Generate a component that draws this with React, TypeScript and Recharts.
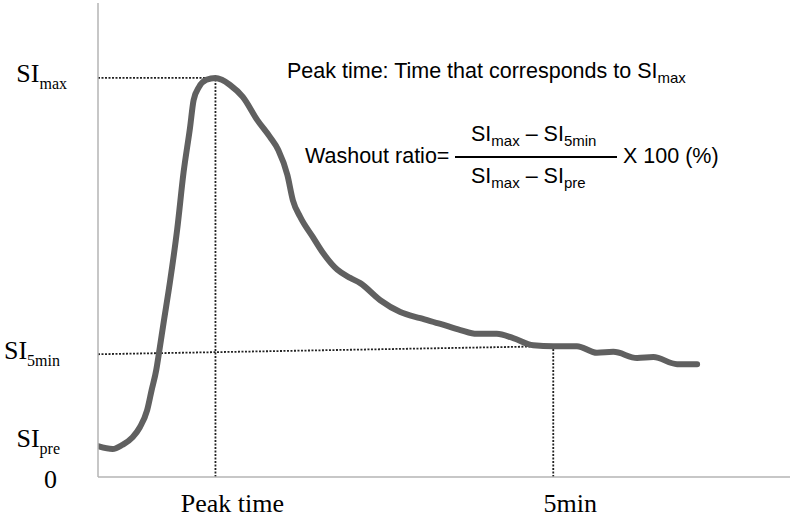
import React from "react";
import { LineChart, Line, XAxis, YAxis, ReferenceLine } from "recharts";

// time in minutes
const times = [
  0, 0.16, 0.27, 0.38, 0.46, 0.54, 0.59, 0.64, 0.67, 0.72, 0.79, 0.87, 0.94, 1.01, 1.05, 1.11, 1.19, 1.29,
  1.36, 1.45, 1.59, 1.75, 1.89, 1.98, 2.08, 2.14, 2.22, 2.36, 2.47, 2.63, 2.77, 2.88, 3.1, 3.32, 3.54, 3.76,
  3.98, 4.16, 4.38, 4.56, 4.78, 5.0, 5.26, 5.48, 5.66, 5.92, 6.1, 6.36, 6.58,
];
// signal intensity
const signal = [
  6.5, 5.9, 6.8, 8.4, 10.5, 14.1, 18.4, 22.6, 26.2, 32.5, 41.1, 52.3, 64.3, 73.6, 79.5, 82.3, 83.8, 84.2,
  83.8, 82.7, 80.2, 75.3, 71.7, 69.0, 63.7, 58.4, 54.9, 50.6, 47.3, 43.7, 42.0, 40.9, 37.3, 34.8, 33.5, 32.3,
  31.0, 30.2, 30.2, 29.3, 27.8, 27.6, 27.6, 26.2, 26.4, 25.1, 25.3, 23.8, 23.8,
];

const peakTime = 1.29;
const fiveMin = 5;
const siMax = 84.2;
const si5min = 27.6;
const si5minLeft = 25.9;
const siPre = 6.5;

const xTicks = [peakTime, fiveMin];
const xTickLabels = ["Peak time", "5min"];
const yTicks = [0, siPre, si5min, siMax];
const yTickMain = ["0", "SI", "SI", "SI"];
const yTickSub = ["", "pre", "5min", "max"];

const data = times.map((t, i) => ({ t, si: signal[i] }));

const serif = "'Liberation Serif', 'Times New Roman', serif";
const sans = "'Liberation Sans', Arial, sans-serif";

const yDx = [-41, -38, -38, -31];
const yDy = [11, 1, 13, 4];

const YTick = (props: any) => {
  const { x, y, index } = props;
  return (
    <text x={x + yDx[index]} y={y + yDy[index]} textAnchor="end" fontFamily={serif} fontSize={26} fill="#000">
      {yTickMain[index]}
      {yTickSub[index] ? (
        <tspan fontSize={16} dy={7}>
          {yTickSub[index]}
        </tspan>
      ) : null}
    </text>
  );
};

const XTick = (props: any) => {
  const { x, y, index } = props;
  return (
    <text x={x + 17} y={y + 35} textAnchor="middle" fontFamily={serif} fontSize={26} fill="#000">
      {xTickLabels[index]}
    </text>
  );
};

const dot = { stroke: "#222", strokeWidth: 1.8, strokeDasharray: "2 1.5" };

export default function App() {
  return (
    <div style={{ position: "fixed", left: 0, top: 0, width: 797, height: 517, background: "#fff" }}>
      <LineChart width={797} height={517} data={data} margin={{ top: 3, right: 7, bottom: 0, left: 0 }}>
        <XAxis
          dataKey="t"
          type="number"
          domain={[0, 7.6]}
          ticks={xTicks}
          tick={<XTick />}
          tickLine={false}
          tickSize={0}
          tickMargin={0}
          height={40}
          axisLine={{ stroke: "#b5b5b5", strokeWidth: 1.5 }}
          allowDataOverflow
        />
        <YAxis
          type="number"
          domain={[0, 100]}
          ticks={yTicks}
          tick={<YTick />}
          tickLine={false}
          tickSize={0}
          tickMargin={0}
          width={98}
          axisLine={{ stroke: "#b5b5b5", strokeWidth: 1.5 }}
          interval={0}
        />
        <ReferenceLine segment={[{ x: 0, y: siMax }, { x: peakTime, y: siMax }]} {...dot} />
        <ReferenceLine segment={[{ x: peakTime, y: 0 }, { x: peakTime, y: siMax }]} {...dot} />
        <ReferenceLine segment={[{ x: 0, y: si5minLeft }, { x: fiveMin, y: si5min }]} {...dot} />
        <ReferenceLine segment={[{ x: fiveMin, y: 0 }, { x: fiveMin, y: si5min }]} {...dot} />
        <Line
          type="monotone"
          dataKey="si"
          stroke="#606060"
          strokeWidth={6}
          strokeLinecap="round"
          strokeLinejoin="round"
          dot={false}
          activeDot={false}
          isAnimationActive={false}
        />
        <text x={287} y={78} fontFamily={sans} fontSize={21.5} fill="#000">
          Peak time: Time that corresponds to SI
          <tspan fontSize={15} dy={5}>max</tspan>
        </text>
        <text x={305} y={163} fontFamily={sans} fontSize={21.5} fill="#000">
          Washout ratio=
        </text>
        <line x1={455} y1={157} x2={617} y2={157} stroke="#000" strokeWidth={2} />
        <text x={471} y={141} fontFamily={sans} fontSize={21.5} fill="#000">
          SI
          <tspan fontSize={15} dy={5}>max</tspan>
          <tspan fontSize={21.5} dy={-5}> – SI</tspan>
          <tspan fontSize={15} dy={5}>5min</tspan>
        </text>
        <text x={471} y={183} fontFamily={sans} fontSize={21.5} fill="#000">
          SI
          <tspan fontSize={15} dy={5}>max</tspan>
          <tspan fontSize={21.5} dy={-5}> – SI</tspan>
          <tspan fontSize={15} dy={5}>pre</tspan>
        </text>
        <text x={623} y={163} fontFamily={sans} fontSize={21.5} fill="#000">
          X 100 (%)
        </text>
      </LineChart>
    </div>
  );
}
